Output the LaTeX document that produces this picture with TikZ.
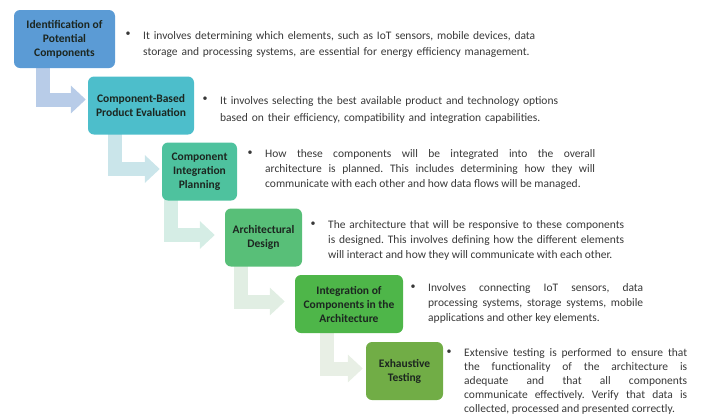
\documentclass[tikz,border=0pt]{standalone}
\usepackage{fontspec}
\setmainfont{Carlito}
\usepackage{xcolor}
\usetikzlibrary{arrows.meta, positioning, calc, backgrounds}
\frenchspacing

\definecolor{stageA}{HTML}{5B9BD5}
\definecolor{stageB}{HTML}{4DBECB}
\definecolor{stageC}{HTML}{4EC29E}
\definecolor{stageD}{HTML}{58BF78}
\definecolor{stageE}{HTML}{4EB649}
\definecolor{stageF}{HTML}{71AD46}
\definecolor{flowA}{HTML}{B8CCE8}
\definecolor{flowB}{HTML}{CAE5EA}
\definecolor{flowC}{HTML}{D5EDE5}
\definecolor{flowD}{HTML}{E1EEE3}
\definecolor{flowE}{HTML}{E8EFE5}
\definecolor{boxtext}{HTML}{1C2620}
\definecolor{desctext}{HTML}{383838}

\tikzset{
  stagebox/.style={rounded corners=6pt, minimum height=58pt, align=center,
    inner sep=1pt, text=boxtext, font=\bfseries\fontsize{11.5}{14}\selectfont},
  desc/.style={anchor=north west, inner sep=0pt, text=desctext,
    font=\fontsize{11.5}{#1}\selectfont},
  desc/.default=15,
  bullet/.style={anchor=north, inner sep=0pt, xshift=-15pt, text=desctext},
  flow/.style={line width=14pt, -{Triangle[width=27pt, length=15pt]}},
}

\begin{document}
\begin{tikzpicture}[x=1pt, y=-1pt]
\useasboundingbox (0,0) rectangle (702,416);

% ---------------- Stages ----------------
\node[stagebox, fill=stageA, minimum width=101pt] (ident) at (64.5,39)
  {Identification of\\ Potential\\ Components};
\node[stagebox, fill=stageB, minimum width=106pt] (evalbox) at (141,105.5)
  {Component-Based\\ Product Evaluation};
\node[stagebox, fill=stageC, minimum width=75pt] (planbox) at (199.5,171.5)
  {Component\\ Integration\\ Planning};
\node[stagebox, fill=stageD, minimum width=77pt] (design) at (263.5,237.5)
  {Architectural\\ Design};
\node[stagebox, fill=stageE, minimum width=108pt] (integ) at (349,304)
  {Integration of\\ Components in the\\ Architecture};
\node[stagebox, fill=stageF, minimum width=77pt] (testing) at (404.5,371)
  {Exhaustive\\ Testing};

% ---------------- Bent arrows (behind) ----------------
\begin{scope}[on background layer]
\foreach \a/\b/\dx/\up/\gap/\col in {ident/evalbox/29.5/6/2/flowA,
    evalbox/planbox/27/2.5/2/flowB, planbox/design/9.5/2.5/10/flowC,
    design/integ/16.5/2.5/10/flowD, integ/testing/32.5/2.5/3/flowE}
  \draw[flow, draw=\col] ($(\a.south west)+(\dx,-3)$)
    |- ([xshift=-\gap pt, yshift=\up pt]\b.west);
\end{scope}

% ---------------- Descriptions ----------------
\node[desc=16.5, text width=420pt, align=left, label={[bullet]north west:\strut\textbullet}]
  (identtxt) at (143,27.5) {\strut It involves determining which elements, such as IoT sensors, mobile devices, data\\
  storage and processing systems, are essential for energy efficiency management.};
\node[desc=16.5, text width=420pt, align=left, label={[bullet]north west:\strut\textbullet}]
  (evaltxt) at (220,93) {\strut It involves selecting the best available product and technology options\\
  based on their efficiency, compatibility and integration capabilities.};
\node[desc, text width=330pt, align=justify, label={[bullet]north west:\strut\textbullet}]
  (plantxt) at (265,146.5) {\strut How these components will be integrated into the overall\linebreak
  architecture is planned. This includes determining how they will\linebreak
  communicate with each other and how data flows will be managed.};
\node[desc, text width=296pt, align=justify, label={[bullet]north west:\strut\textbullet}]
  (designtxt) at (328,217.5) {\strut The architecture that will be responsive to these components\linebreak
  is designed. This involves defining how the different elements\linebreak
  will interact and how they will communicate with each other.};
\node[desc, text width=215pt, align=justify, label={[bullet]north west:\strut\textbullet}]
  (integtxt) at (428,280.5) {\strut Involves connecting IoT sensors, data\linebreak
  processing systems, storage systems, mobile\linebreak
  applications and other key elements.};
\node[desc=14.1, text width=223pt, align=justify, label={[bullet]north west:\strut\textbullet}]
  (testtxt) at (464,346) {\strut Extensive testing is performed to ensure that\linebreak
  the functionality of the architecture is\linebreak
  adequate and that all components\linebreak
  communicate effectively. Verify that data is\linebreak
  collected, processed and presented correctly.};
\end{tikzpicture}
\end{document}
